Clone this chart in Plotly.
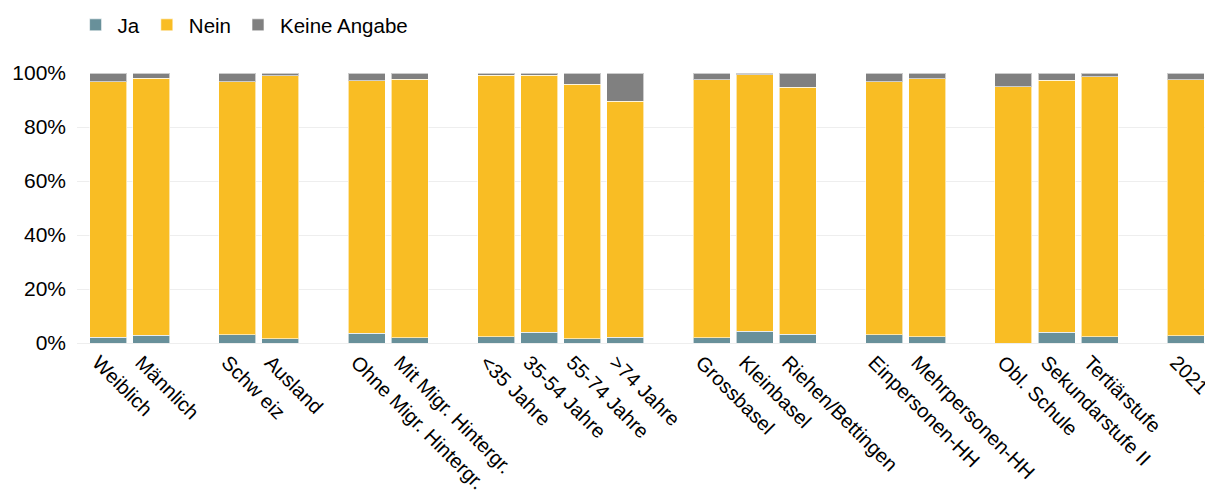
import plotly.graph_objects as go

groups = [
    ["Weiblich", "Männlich"],
    ["Schw eiz", "Ausland"],
    ["Ohne Migr. Hintergr.", "Mit Migr. Hintergr."],
    ["<35 Jahre", "35-54 Jahre", "55-74 Jahre", ">74 Jahre"],
    ["Grossbasel", "Kleinbasel", "Riehen/Bettingen"],
    ["Einpersonen-HH", "Mehrpersonen-HH"],
    ["Obl. Schule", "Sekundarstufe II", "Tertiärstufe"],
    ["2021"],
]

ja = [2.2, 2.8, 3.0, 1.6, 3.7, 2.0, 2.4, 4.0, 1.6, 2.2, 2.0, 4.3, 3.2, 3.0, 2.4, 0.0, 4.0, 2.4, 2.7]
nein = [94.6, 95.3, 93.8, 97.4, 93.4, 95.6, 96.7, 95.1, 94.3, 87.4, 95.5, 95.0, 91.5, 93.8, 95.5, 95.0, 93.3, 96.2, 94.8]
keine = [3.2, 1.9, 3.2, 1.0, 2.9, 2.4, 0.9, 0.9, 4.1, 10.4, 2.5, 0.7, 5.3, 3.2, 2.1, 5.0, 2.7, 1.4, 2.5]

series_names = ["Ja", "Nein", "Keine Angabe"]
colors = ["#68909A", "#F9BD24", "#808080"]

y_ticks = [0, 20, 40, 60, 80, 100]
y_ticktext = [f"{v}%" for v in y_ticks]

categories = [c for g in groups for c in g]
# full category order with blank spacer slots between groups
cat_order = []
for i, g in enumerate(groups):
    cat_order += g
    if i < len(groups) - 1:
        cat_order.append(" " * (i + 1))

fig = go.Figure()
for name, vals, col in zip(series_names, [ja, nein, keine], colors):
    fig.add_trace(go.Bar(
        x=categories, y=vals, name=name,
        marker=dict(color=col, line=dict(color="rgba(255,255,255,0.6)", width=1)),
    ))

font = "Liberation Sans, Arial, sans-serif"
fig.update_layout(
    barmode="stack",
    bargap=0.142,
    width=1205, height=495,
    margin=dict(l=69, r=0, t=65, b=160, autoexpand=False),
    plot_bgcolor="white", paper_bgcolor="white",
    font=dict(family=font, size=20, color="#000000"),
    showlegend=True,
    legend=dict(orientation="h", x=-0.003, xanchor="left", y=1 - 17 / 495, yref="container",
                yanchor="middle", font=dict(size=20.5), traceorder="normal",
                itemwidth=34),
    xaxis=dict(type="category", categoryorder="array", categoryarray=cat_order,
               range=[-0.72, 25.63], tickangle=45, showgrid=False, ticks="",
               tickfont=dict(size=20), automargin=False,
               ticklabelshift=-10, ticklabelstandoff=3),
    yaxis=dict(range=[0, 100], tickmode="array", tickvals=y_ticks, ticktext=y_ticktext,
               gridcolor="#EEEEEE", gridwidth=1, zeroline=True, zerolinecolor="#EEEEEE",
               zerolinewidth=1, tickfont=dict(size=21), ticks="", ticklabelstandoff=10,
               automargin=False),
)

fig.write_html("out.html")
